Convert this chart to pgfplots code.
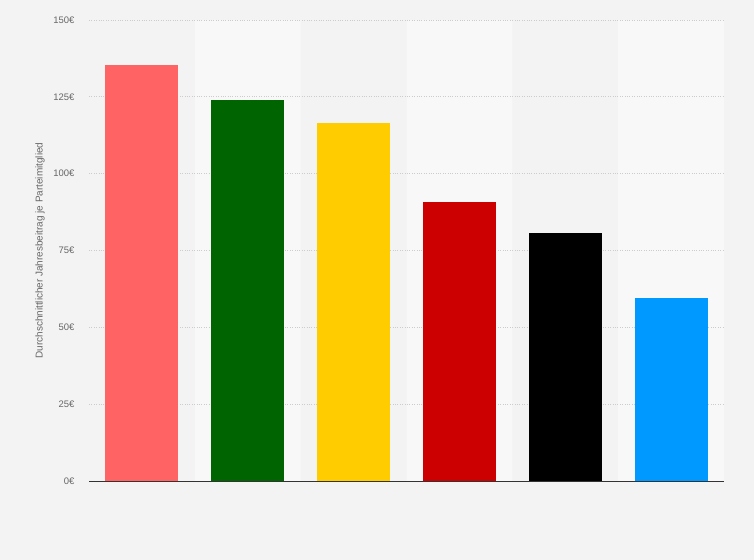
\documentclass[border=0pt]{standalone}
\usepackage{pgfplots}
\pgfplotsset{compat=1.18}
\usepackage{fontspec}
\setmainfont{Liberation Sans}
\definecolor{bg}{HTML}{F3F3F3}
\definecolor{band}{HTML}{F8F8F8}
\definecolor{txt}{HTML}{666666}
\definecolor{c1}{HTML}{FF6363}
\definecolor{c2}{HTML}{006400}
\definecolor{c3}{HTML}{FFCC00}
\definecolor{c4}{HTML}{CC0000}
\definecolor{c5}{HTML}{000000}
\definecolor{c6}{HTML}{0099FF}
\pgfdeclarelayer{bgpic}
\pgfplotsset{
    layers/withbg/.define layer set={
        bgpic, axis background, axis grid, axis ticks, axis lines,
        axis tick labels, pre main, main, axis descriptions, axis foreground
    }{},
}
\begin{document}
\begin{tikzpicture}
\begin{axis}[
    set layers=withbg,
    clip=false,
    at={(89bp,79bp)}, anchor=south west,
    scale only axis,
    width=635bp, height=461bp,
    xmin=-0.5, xmax=5.5,
    ymin=0, ymax=150,
    ytick={0,25,50,75,100,125,150},
    xtick=\empty,
    major tick length=0pt,
    axis x line*=bottom,
    axis y line*=left,
    y axis line style={draw=none},
    x axis line style={draw=black!80, line width=0.8bp},
    ymajorgrids,
    grid style={dotted, color=black!20, line width=0.7bp},
    /pgf/number format/assume math mode=true,
    yticklabel={\pgfmathprintnumber{\tick}€},
    yticklabel style={font=\fontsize{9.5}{11}\selectfont, text=txt, anchor=east, xshift=-11bp},
    ylabel={Durchschnittlicher Jahresbeitrag je Parteimitglied},
    ylabel style={font=\fontsize{10}{11}\selectfont, text=txt, at={(axis description cs:-0.077,0.5)}, anchor=center},
    ybar, bar shift=0pt, bar width=73bp,
]
\begin{pgfonlayer}{bgpic}
\fill[bg] (rel axis cs:-0.14016,-0.17137) rectangle (rel axis cs:1.04724,1.04338);
\end{pgfonlayer}
\addplot[on layer=axis background, ybar, bar width=1, fill=band, draw=none] coordinates {(1,150) (3,150) (5,150)};
\addplot[fill=c1, draw=none] coordinates {(0,135.4)};
\addplot[fill=c2, draw=none] coordinates {(1,124.0)};
\addplot[fill=c3, draw=none] coordinates {(2,116.5)};
\addplot[fill=c4, draw=none] coordinates {(3,90.8)};
\addplot[fill=c5, draw=none] coordinates {(4,80.7)};
\addplot[fill=c6, draw=none] coordinates {(5,59.5)};
\end{axis}
\path (0,0) rectangle (754bp,560bp);
\end{tikzpicture}
\end{document}
